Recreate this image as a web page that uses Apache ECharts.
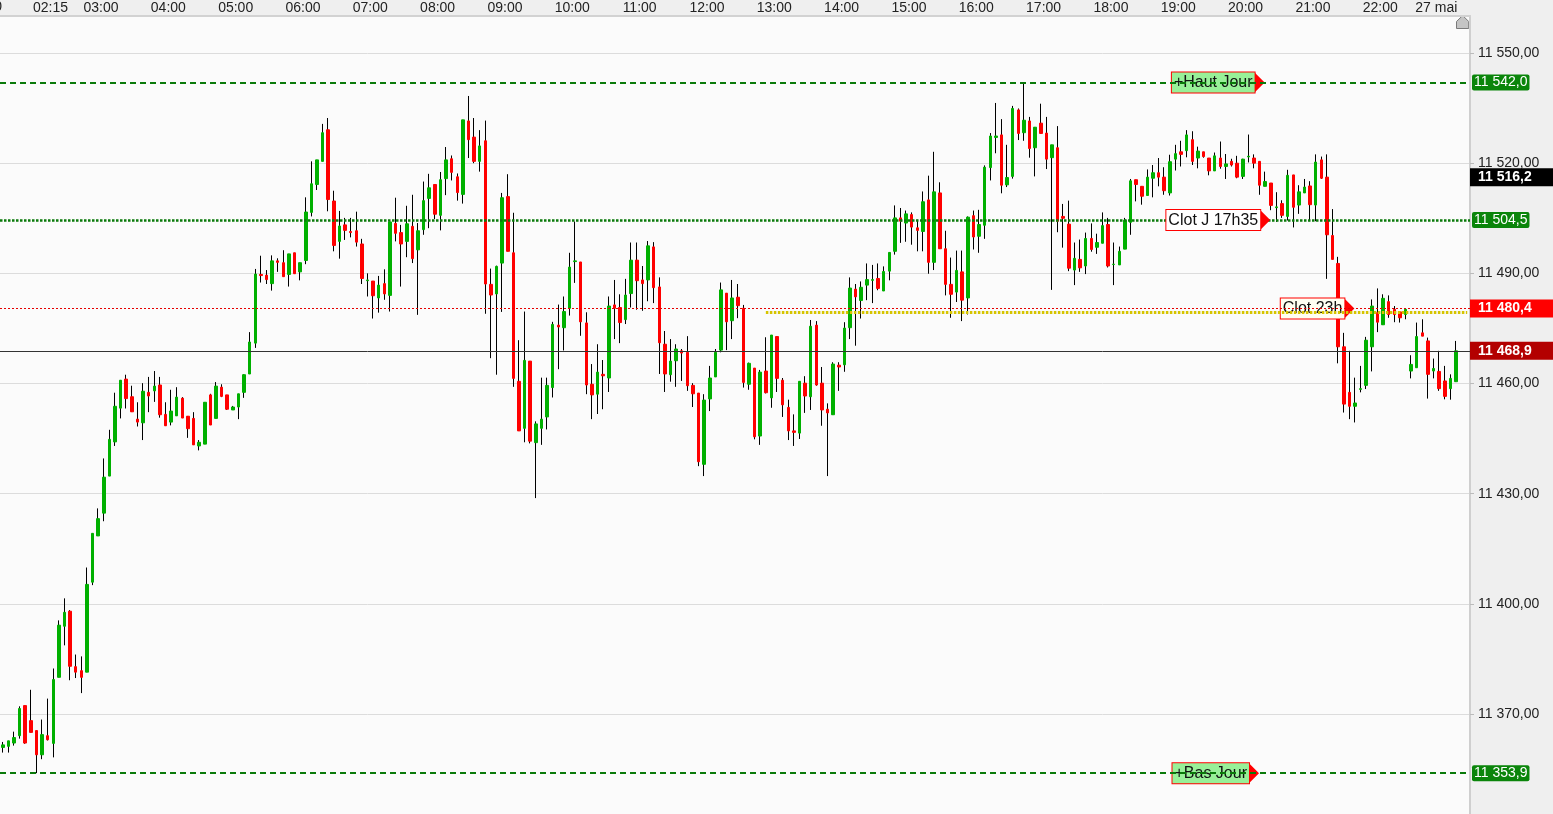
<!DOCTYPE html>
<html><head><meta charset="utf-8">
<script src="https://cdn.jsdelivr.net/npm/echarts@6/dist/echarts.min.js"></script>
<style>html,body{margin:0;padding:0;background:#efefef;overflow:hidden}#c{width:1553px;height:825px}</style>
</head><body><div id="c"></div>
<script>
// ---- data ----
const startMinutes = 90;          // first 5-minute bar: 01:30
const categoryCount = 262;
const opens = [11360.9,11361.2,11362.1,11364.1,11372.3,11368.2,11365.5,11358.9,11364.1,11362.0,
11380.0,11393.9,11398.0,11382.9,11381.8,11381.4,11405.9,11418.5,11424.7,11434.8,
11444.1,11453.3,11461.2,11456.4,11450.3,11449.3,11457.6,11458.0,11459.6,11451.6,
11449.5,11451.2,11456.0,11451.1,11450.5,11443.0,11443.5,11456.9,11450.5,11459.0,
11456.9,11452.8,11453.6,11457.6,11462.6,11471.0,11489.7,11489.5,11487.2,11493.4,
11492.9,11489.7,11495.6,11490.4,11493.5,11506.6,11514.2,11520.5,11529.1,11509.7,
11498.7,11503.2,11501.4,11501.6,11498.0,11488.0,11487.9,11483.3,11487.2,11484.0,
11503.6,11501.1,11498.7,11502.8,11496.4,11501.9,11510.4,11514.2,11505.8,11515.8,
11521.2,11516.3,11511.5,11531.5,11527.1,11520.5,11526.1,11487.0,11484.4,11492.8,
11510.9,11495.6,11460.6,11447.8,11466.1,11443.9,11447.8,11450.9,11458.9,11475.9,
11475.2,11480.5,11493.2,11493.1,11476.5,11459.8,11457.1,11462.5,11461.5,11481.4,
11480.7,11477.4,11484.5,11493.6,11488.2,11488.2,11497.2,11486.3,11470.7,11462.4,
11466.2,11468.9,11468.5,11459.5,11457.4,11438.0,11455.8,11461.8,11469.1,11484.6,
11477.1,11483.5,11480.5,11459.8,11464.2,11445.7,11463.4,11456.1,11472.8,11460.9,
11453.5,11447.1,11446.5,11460.1,11456.4,11475.9,11460.1,11453.0,11451.5,11465.0,
11465.1,11475.2,11485.7,11482.6,11486.8,11488.1,11488.6,11485.2,11490.6,11496.0,
11505.1,11503.7,11506.0,11502.4,11501.4,11510.0,11493.0,11511.9,11496.7,11487.0,
11484.9,11490.4,11483.3,11505.7,11500.1,11503.1,11518.8,11527.0,11527.7,11514.1,
11516.4,11534.5,11528.3,11531.5,11524.2,11530.9,11528.2,11521.5,11524.2,11505.5,
11503.4,11490.9,11493.8,11492.0,11499.5,11497.1,11498.2,11503.3,11492.4,11492.3,
11496.6,11503.9,11515.5,11513.7,11511.2,11515.9,11517.4,11516.2,11511.9,11521.1,
11523.1,11523.4,11526.4,11521.4,11523.1,11521.4,11517.9,11521.4,11519.1,11520.5,
11520.0,11516.4,11521.7,11521.4,11520.5,11513.7,11514.6,11507.9,11509.0,11505.5,
11516.8,11508.6,11511.9,11513.8,11508.6,11520.9,11516.2,11500.3,11492.7,11470.0,
11457.6,11453.8,11458.4,11459.5,11470.0,11479.3,11476.0,11482.3,11480.2,11479.5,
11478.8,11463.4,11464.3,11473.8,11471.6,11463.4,11463.3,11460.7,11458.6,11460.5];
const highs = [11362.4,11362.7,11365.2,11372.1,11372.3,11376.6,11365.5,11368.5,11374.2,11382.4,
11395.5,11401.5,11398.3,11386.2,11385.7,11409.9,11419.2,11426.0,11439.6,11447.4,
11457.5,11460.9,11462.4,11459.4,11454.9,11460.1,11461.8,11463.4,11461.8,11454.9,
11458.3,11459.0,11456.3,11451.1,11452.2,11444.6,11454.9,11457.2,11460.4,11459.8,
11456.9,11453.9,11457.2,11462.5,11474.0,11491.2,11494.8,11490.9,11494.9,11494.1,
11496.3,11495.3,11495.6,11492.9,11510.7,11520.5,11520.9,11530.7,11532.3,11512.5,
11507.0,11505.1,11505.1,11506.8,11499.4,11490.0,11487.9,11489.3,11491.1,11504.0,
11510.6,11503.2,11508.4,11511.4,11503.7,11515.0,11517.1,11514.2,11517.6,11524.4,
11522.1,11517.2,11531.8,11538.3,11532.3,11529.0,11531.6,11491.3,11492.1,11511.9,
11517.0,11506.5,11471.8,11479.6,11466.1,11449.7,11461.6,11461.6,11476.8,11481.5,
11483.7,11495.6,11504.1,11493.1,11479.4,11465.3,11470.7,11466.4,11483.7,11488.2,
11484.3,11488.5,11498.4,11498.4,11492.0,11498.8,11498.5,11488.9,11474.3,11472.1,
11470.7,11469.4,11472.9,11460.1,11457.4,11457.1,11464.8,11469.4,11487.5,11484.6,
11488.2,11487.1,11481.4,11465.7,11464.2,11463.7,11472.6,11473.2,11472.8,11461.5,
11455.6,11451.6,11460.6,11462.0,11477.3,11477.0,11464.5,11454.6,11465.8,11465.8,
11476.7,11488.9,11487.1,11487.8,11492.7,11492.3,11492.7,11491.9,11495.7,11508.5,
11507.8,11507.1,11506.6,11504.6,11512.3,11516.6,11523.1,11514.8,11501.6,11494.3,
11496.2,11496.2,11505.5,11507.1,11507.3,11519.4,11528.2,11536.4,11532.0,11525.0,
11535.6,11534.9,11542.0,11532.6,11529.8,11536.2,11532.6,11525.0,11530.1,11508.9,
11509.8,11498.4,11499.2,11501.1,11503.6,11500.8,11506.6,11505.1,11498.4,11497.3,
11505.1,11515.7,11515.5,11513.7,11518.3,11519.5,11521.4,11518.9,11522.3,11525.0,
11526.1,11529.0,11528.7,11524.5,11523.1,11521.4,11522.9,11525.9,11522.5,11521.2,
11522.0,11521.2,11527.8,11522.4,11520.5,11517.7,11514.6,11512.1,11509.9,11518.2,
11516.8,11514.0,11515.7,11515.1,11522.4,11521.8,11522.4,11507.5,11494.5,11473.8,
11468.9,11461.6,11464.8,11472.7,11482.9,11485.9,11484.3,11484.0,11481.1,11479.5,
11480.4,11467.7,11476.6,11477.5,11472.5,11466.8,11468.9,11464.8,11462.5,11471.6];
const lows = [11359.5,11359.5,11361.4,11363.3,11361.9,11365.0,11353.9,11357.7,11362.8,11358.2,
11380.0,11388.7,11379.2,11379.8,11375.7,11381.4,11405.1,11418.5,11422.5,11434.8,
11443.0,11450.5,11453.2,11452.3,11448.3,11444.6,11452.2,11455.0,11450.7,11448.5,
11448.6,11451.2,11450.6,11445.2,11443.3,11441.8,11443.5,11448.7,11450.5,11456.3,
11452.8,11452.8,11450.3,11456.1,11462.6,11469.7,11487.5,11487.1,11485.3,11490.4,
11489.1,11486.4,11489.9,11488.1,11492.5,11505.5,11512.7,11520.5,11506.9,11496.0,
11494.0,11499.1,11499.8,11497.3,11487.1,11483.7,11477.7,11479.3,11482.8,11479.6,
11498.7,11486.4,11494.4,11492.8,11478.7,11500.5,11502.3,11504.8,11501.7,11511.3,
11515.3,11509.8,11509.0,11521.4,11520.0,11517.7,11479.0,11466.9,11462.4,11479.5,
11496.0,11459.1,11447.1,11444.0,11443.7,11428.8,11443.3,11447.5,11456.2,11463.9,
11469.0,11478.5,11487.4,11473.0,11457.1,11450.3,11451.7,11453.0,11457.7,11472.1,
11471.0,11476.2,11480.7,11480.1,11479.8,11482.4,11481.9,11462.6,11457.7,11460.5,
11459.1,11460.7,11458.0,11453.6,11437.5,11434.8,11452.5,11461.8,11468.5,11469.1,
11472.1,11477.8,11458.9,11458.3,11444.8,11443.3,11457.3,11453.4,11457.7,11450.9,
11444.6,11443.0,11444.9,11452.0,11452.8,11459.4,11448.5,11434.8,11451.5,11458.0,
11463.2,11472.1,11470.3,11477.7,11482.7,11481.9,11485.4,11485.2,11488.1,11495.1,
11498.3,11498.6,11497.8,11496.0,11496.0,11489.9,11490.9,11496.7,11484.0,11477.9,
11482.2,11477.0,11478.8,11496.5,11495.6,11499.4,11515.3,11522.7,11511.8,11513.5,
11515.8,11526.3,11526.1,11521.5,11516.4,11528.1,11518.4,11485.5,11501.2,11497.0,
11490.6,11486.8,11490.4,11489.8,11495.9,11495.3,11498.2,11491.6,11486.8,11492.3,
11496.6,11500.5,11509.6,11508.7,11511.2,11510.7,11513.7,11511.4,11511.2,11518.0,
11519.1,11521.6,11519.5,11518.6,11521.5,11516.7,11517.9,11518.5,11515.7,11519.1,
11515.9,11515.7,11520.2,11518.6,11511.4,11513.7,11507.2,11504.0,11505.1,11504.4,
11502.5,11506.2,11511.9,11504.2,11504.2,11515.7,11488.5,11493.8,11465.5,11452.1,
11450.3,11449.4,11457.6,11458.5,11463.3,11474.0,11476.0,11477.9,11476.7,11476.6,
11477.5,11461.4,11464.3,11472.9,11455.9,11461.4,11458.0,11455.7,11455.6,11460.5];
const closes = [11361.6,11362.7,11363.6,11371.5,11362.1,11365.0,11358.9,11364.4,11363.0,11379.4,
11394.2,11397.7,11383.0,11381.4,11380.0,11405.3,11419.2,11423.2,11434.5,11444.8,
11453.8,11460.9,11455.9,11452.3,11449.5,11457.9,11456.6,11459.3,11451.5,11448.5,
11452.5,11456.3,11450.6,11447.7,11443.3,11444.0,11454.9,11448.7,11459.3,11456.5,
11453.0,11453.6,11457.2,11462.4,11471.3,11489.8,11489.4,11488.3,11493.4,11493.0,
11489.1,11495.3,11489.9,11492.9,11506.7,11514.4,11520.9,11528.3,11510.1,11497.6,
11502.9,11501.7,11501.1,11498.5,11488.6,11488.2,11483.9,11486.8,11484.4,11504.0,
11500.9,11498.0,11503.5,11494.0,11501.6,11509.8,11513.3,11506.1,11515.5,11520.9,
11517.5,11512.0,11531.8,11526.4,11520.5,11524.7,11487.1,11484.1,11491.9,11510.6,
11496.0,11461.4,11447.1,11466.3,11444.3,11449.0,11450.3,11459.5,11476.1,11475.4,
11479.6,11491.7,11493.4,11476.8,11459.6,11456.9,11463.1,11462.1,11481.1,11480.5,
11476.6,11484.1,11493.6,11488.0,11487.2,11497.5,11486.1,11471.1,11462.6,11466.1,
11469.4,11468.3,11459.4,11457.2,11438.7,11455.5,11461.5,11468.5,11485.5,11476.8,
11483.3,11481.2,11460.3,11465.5,11445.5,11463.1,11457.5,11473.2,11461.4,11454.2,
11447.1,11446.7,11460.6,11456.6,11475.6,11459.6,11452.8,11452.0,11465.3,11464.5,
11475.1,11486.0,11483.6,11486.2,11488.3,11488.3,11485.9,11490.5,11495.7,11505.1,
11504.2,11506.2,11502.6,11501.7,11509.5,11493.0,11512.2,11496.7,11487.0,11484.3,
11490.8,11482.7,11505.3,11499.9,11503.3,11518.9,11527.4,11527.4,11514.0,11516.1,
11534.9,11528.1,11531.7,11524.0,11529.8,11528.1,11521.1,11525.0,11504.2,11505.0,
11491.4,11494.1,11491.5,11499.5,11496.5,11498.4,11503.0,11492.0,11492.5,11496.0,
11504.5,11515.2,11514.2,11511.0,11516.2,11517.4,11516.2,11512.5,11520.4,11522.6,
11522.4,11527.7,11520.5,11523.3,11521.8,11517.9,11522.0,11519.1,11519.8,11519.5,
11516.2,11521.1,11521.9,11520.0,11514.0,11515.0,11508.5,11508.1,11505.8,11516.7,
11508.0,11512.2,11513.5,11508.7,11520.3,11515.9,11500.5,11493.8,11470.0,11454.4,
11453.8,11454.7,11458.6,11471.8,11481.1,11476.7,11483.2,11478.8,11478.8,11477.9,
11480.2,11465.2,11472.8,11472.9,11462.5,11464.1,11458.6,11456.5,11461.4,11468.9];
const tickTimes = ['02:15','03:00','04:00','05:00','06:00','07:00','08:00','09:00','10:00','11:00','12:00','13:00','14:00','15:00','16:00','17:00','18:00','19:00','20:00','21:00','22:00','22:50'];
const tickTexts = ['02:15','03:00','04:00','05:00','06:00','07:00','08:00','09:00','10:00','11:00','12:00','13:00','14:00','15:00','16:00','17:00','18:00','19:00','20:00','21:00','22:00','27 mai'];
const hautJour = 11542.0, basJour = 11353.9, clotJ = 11504.5, clot23h = 11480.4;
const markerLevel = 11516.2, lastPrice = 11468.9, yellowLevel = 11479.4;
const yellowFrom = '12:50', yellowTo = '23:15';
const tagNames = ['+Haut Jour', 'Clot J 17h35', 'Clot 23h', '+Bas Jour'];
const tagTimes = ['20:10', '20:15', '21:30', '20:05'];

// ---- build ----
const categories = [];
for (let i = 0; i < categoryCount; i++) {
  const m = startMinutes + 5 * i;
  categories.push(String(Math.floor(m / 60)).padStart(2, '0') + ':' + String(m % 60).padStart(2, '0'));
}
const ohlc = opens.map((o, i) => [o, closes[i], lows[i], highs[i]]);
const bodies = opens.map((o, i) => [o, closes[i], Math.min(o, closes[i]), Math.max(o, closes[i])]);

function fr(v, d) {
  const s = Number(v).toFixed(d).split('.');
  return s[0].replace(/\B(?=(\d{3})+(?!\d))/g, ' ') + ',' + s[1];
}
const FONT = '"Liberation Sans", Arial, sans-serif';
function greenTag(v) {
  return {show: true, position: 'end', distance: 2, formatter: fr(v, 1), color: '#fff', backgroundColor: '#0a850a',
    padding: [1, 2, 1, 2], fontSize: 14, lineHeight: 14, borderRadius: 2, fontFamily: FONT};
}
function boldTag(v, bg) {
  return {show: true, position: 'end', distance: 0, formatter: fr(v, 1), color: '#fff', backgroundColor: bg,
    padding: [2, 30, 2, 8], fontSize: 14, lineHeight: 14, fontWeight: 'bold', fontFamily: FONT};
}
const tagLabel = {show: true, position: 'left', distance: 0, formatter: '{b}', color: '#111', fontSize: 16, lineHeight: 17,
  padding: [2, 2, 1, 2], borderColor: '#ff0000', borderWidth: 1, backgroundColor: '#ffffff', fontFamily: FONT};
const arrow = 'path://M0,0L10,10L0,20Z';

const chart = echarts.init(document.getElementById('c'), null, {renderer: 'canvas'});
chart.setOption({
  animation: false,
  backgroundColor: '#efefef',
  textStyle: {fontFamily: FONT},
  grid: {left: 0, top: 16, width: 1470, height: 808.2, show: true, backgroundColor: '#fbfbfb', borderWidth: 0},
  xAxis: {
    type: 'category', data: categories, position: 'top', boundaryGap: true,
    axisLine: {show: true, lineStyle: {color: '#d2d2d2', width: 2}},
    axisTick: {show: false}, splitLine: {show: false},
    axisLabel: {
      interval: (i, v) => tickTimes.indexOf(v) >= 0, margin: 1,
      formatter: (v) => '{t|' + tickTexts[tickTimes.indexOf(v)] + '}',
      rich: {t: {fontSize: 14, color: '#222', padding: [0, 5.6, 0, 0], fontFamily: FONT}}
    }
  },
  yAxis: {
    type: 'value', position: 'right', min: 11340, max: 11560.08, interval: 30,
    axisLine: {show: true, lineStyle: {color: '#cfcfcf', width: 2}},
    axisTick: {show: true, length: 4, lineStyle: {color: '#bbbbbb'}},
    axisLabel: {margin: 8, fontSize: 14, color: '#222', formatter: (v) => fr(v, 2), showMinLabel: false, showMaxLabel: false, fontFamily: FONT},
    splitLine: {show: true, lineStyle: {color: '#dcdcdc', width: 1}}
  },
  graphic: [
    {type: 'text', x: 2, y: 7, style: {text: '01:20', font: '14px ' + FONT, fill: '#222', align: 'right', verticalAlign: 'middle'}, silent: true},
    {type: 'polygon', shape: {points: [[1456.5, 28.5], [1456.5, 21.5], [1462.7, 15.5], [1468.7, 21.5], [1468.7, 28.5]]},
     style: {fill: '#c4c4c4', stroke: '#7a7a7a', lineWidth: 1}, silent: true}
  ],
  series: [
    {
      name: 'wicks', type: 'candlestick', data: ohlc, barWidth: 1, z: 2,
      itemStyle: {color: '#000', color0: '#000', borderColor: '#000', borderColor0: '#000', borderWidth: 1},
      markPoint: {
        z: 6, silent: true, symbol: arrow, symbolSize: [10, 20], itemStyle: {color: '#ff0000', borderWidth: 0},
        label: tagLabel,
        data: [{name: tagNames[1], coord: [tagTimes[1], clotJ]}]
      }
    },
    {
      name: 'bodies', type: 'candlestick', data: bodies, barWidth: 3, z: 3,
      itemStyle: {color: '#00b000', color0: '#ff0000', borderColor: '#00b000', borderColor0: '#ff0000', borderWidth: 1},
      markPoint: {
        z: 4, silent: true, symbol: arrow, symbolSize: [10, 20], itemStyle: {color: '#ff0000', borderWidth: 0},
        label: tagLabel,
        data: [
          {name: tagNames[0], coord: [tagTimes[0], hautJour], label: {backgroundColor: '#98f098'}},
          {name: tagNames[2], coord: [tagTimes[2], clot23h], label: {backgroundColor: '#fffff2'}},
          {name: tagNames[3], coord: [tagTimes[3], basJour], label: {backgroundColor: '#98f098'}}
        ]
      },
      markLine: {
        z: 5, silent: true, symbol: ['none', 'none'], animation: false,
        data: [
          {yAxis: hautJour, lineStyle: {color: '#0a7a0a', width: 2, type: [6, 4]}, label: greenTag(hautJour)},
          {yAxis: basJour, lineStyle: {color: '#0a7a0a', width: 2, type: [6, 4]}, label: greenTag(basJour)},
          {yAxis: clotJ, lineStyle: {color: '#0a7a0a', width: 2.5, type: [2.5, 1.5]}, label: greenTag(clotJ)},
          {yAxis: markerLevel, lineStyle: {color: 'rgba(0,0,0,0)', width: 1}, label: boldTag(markerLevel, '#000000')},
          {yAxis: clot23h, lineStyle: {color: '#e60000', width: 1, type: [2, 2]}, label: boldTag(clot23h, '#ff0000')},
          [{coord: [yellowFrom, yellowLevel], lineStyle: {color: '#d6c400', width: 3, type: [2.5, 1.5]}, label: {show: false}},
           {coord: [yellowTo, yellowLevel]}],
          {yAxis: lastPrice, lineStyle: {color: '#333333', width: 1, type: 'solid'}, label: boldTag(lastPrice, '#b30000')}
        ]
      }
    }
  ]
});
</script>
</body></html>
